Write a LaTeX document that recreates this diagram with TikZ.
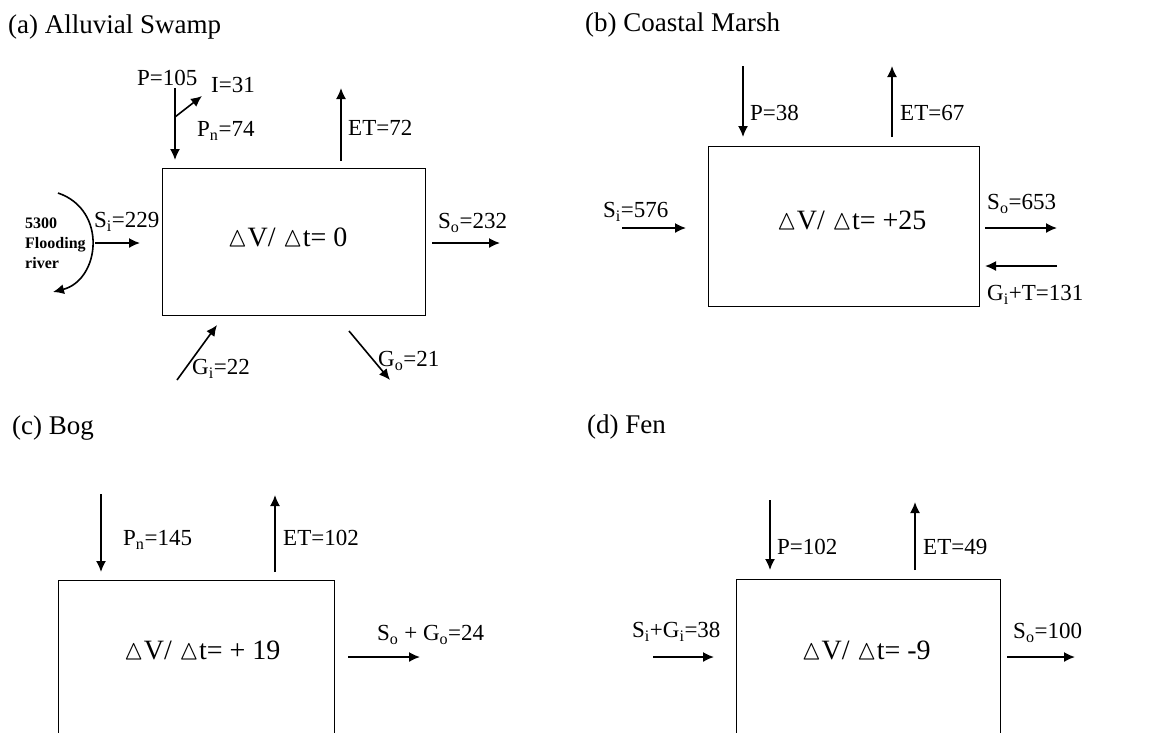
\documentclass[tikz,border=0pt]{standalone}
\usepackage{fontspec}
\setmainfont{Liberation Serif}
\usepackage{amssymb}
\usetikzlibrary{arrows.meta}

\newcommand{\lsub}[1]{\textsubscript{#1}}
\newcommand{\dvdt}{$\vartriangle$V/ $\vartriangle$t=}

\begin{document}
\begin{tikzpicture}[x=1pt, y=-1pt,
        wbox/.style={draw, line width=1pt, inner sep=0pt},
        flow/.style={-{Latex[length=11pt, width=10pt]}, line width=1.6pt},
        vlab/.style={anchor=west, inner sep=0pt, font=\fontsize{23}{27}\selectfont},
        panel/.style={anchor=west, inner sep=0pt, font=\fontsize{27}{32}\selectfont},
        dvlab/.style={inner sep=0pt, font=\fontsize{28}{33}\selectfont}
    ]
    \useasboundingbox (0,0) rectangle (1149,732);
    \clip (0,0) rectangle (1149,732);

    % --- (a) Alluvial Swamp ---
    \node[panel] (tA) at (8,27) {(a) Alluvial Swamp};
    \node[wbox, minimum width=263pt, minimum height=147pt] (boxA) at (293.5,241.5) {};
    \node[dvlab] (dvA) at (287.5,237) {\dvdt{} 0};
    \coordinate (pA0) at (175,88);   \coordinate (pA1) at (175,160);
    \coordinate (iA0) at (175,117);  \coordinate (iA1) at (202,96);
    \coordinate (etA0) at (341,161); \coordinate (etA1) at (341,88);
    \coordinate (siA0) at (95,243);  \coordinate (siA1) at (140,243);
    \coordinate (soA0) at (432,243); \coordinate (soA1) at (500,243);
    \coordinate (giA0) at (177,380); \coordinate (giA1) at (217,325);
    \coordinate (goA0) at (349,331); \coordinate (goA1) at (390,380);
    \coordinate (rvA0) at (58,193);  \coordinate (rvA1) at (53,292);
    \draw[flow] (pA0)--(pA1);
    \draw[flow] (iA0)--(iA1);
    \draw[flow] (etA0)--(etA1);
    \draw[flow] (siA0)--(siA1);
    \draw[flow] (soA0)--(soA1);
    \draw[flow] (giA0)--(giA1);
    \draw[flow] (goA0)--(goA1);
    \draw[flow] (rvA0) .. controls (108,210) and (100,280) .. (rvA1);
    \node[vlab] (lpA) at (137,78) {P=105};
    \node[vlab] (liA) at (211,85) {I=31};
    \node[vlab] (lpnA) at (197,131) {P\lsub{n}=74};
    \node[vlab] (letA) at (348,128) {ET=72};
    \node[vlab] (lsiA) at (94,222) {S\lsub{i}=229};
    \node[vlab] (lsoA) at (438,223) {S\lsub{o}=232};
    \node[vlab] (lgiA) at (192,369) {G\lsub{i}=22};
    \node[vlab] (lgoA) at (378,361) {G\lsub{o}=21};
    \node[anchor=west, inner sep=0pt, align=left, font=\fontsize{16}{20}\selectfont\bfseries] (rvA) at (25,243) {5300\\Flooding\\river};

    % --- (b) Coastal Marsh ---
    \node[panel] (tB) at (585,25) {(b) Coastal Marsh};
    \node[wbox, minimum width=271pt, minimum height=160pt] (boxB) at (843.5,226) {};
    \node[dvlab] (dvB) at (851.5,220) {\dvdt{} +25};
    \coordinate (pB0) at (743,66);    \coordinate (pB1) at (743,137);
    \coordinate (etB0) at (892,137);  \coordinate (etB1) at (892,66);
    \coordinate (siB0) at (622,228);  \coordinate (siB1) at (686,228);
    \coordinate (soB0) at (985,228);  \coordinate (soB1) at (1057,228);
    \coordinate (gtB0) at (1057,266); \coordinate (gtB1) at (985,266);
    \draw[flow] (pB0)--(pB1);
    \draw[flow] (etB0)--(etB1);
    \draw[flow] (siB0)--(siB1);
    \draw[flow] (soB0)--(soB1);
    \draw[flow] (gtB0)--(gtB1);
    \node[vlab] (lpB) at (750,113) {P=38};
    \node[vlab] (letB) at (900,113) {ET=67};
    \node[vlab] (lsiB) at (603,212) {S\lsub{i}=576};
    \node[vlab] (lsoB) at (987,204) {S\lsub{o}=653};
    \node[vlab] (lgtB) at (987,295) {G\lsub{i}+T=131};

    % --- (c) Bog ---
    \node[panel] (tC) at (12,428) {(c) Bog};
    \node[wbox, minimum width=276pt, minimum height=180pt] (boxC) at (196,670) {};
    \node[dvlab] (dvC) at (202,650) {\dvdt{} + 19};
    \coordinate (pC0) at (101,494);   \coordinate (pC1) at (101,572);
    \coordinate (etC0) at (275,572);  \coordinate (etC1) at (275,495);
    \coordinate (soC0) at (348,657);  \coordinate (soC1) at (420,657);
    \draw[flow] (pC0)--(pC1);
    \draw[flow] (etC0)--(etC1);
    \draw[flow] (soC0)--(soC1);
    \node[vlab] (lpC) at (123,540) {P\lsub{n}=145};
    \node[vlab] (letC) at (283,538) {ET=102};
    \node[vlab] (lsoC) at (377,635) {S\lsub{o} + G\lsub{o}=24};

    % --- (d) Fen ---
    \node[panel] (tD) at (587,427) {(d) Fen};
    \node[wbox, minimum width=264pt, minimum height=182pt] (boxD) at (868,670) {};
    \node[dvlab] (dvD) at (866,650) {\dvdt{} -9};
    \coordinate (pD0) at (770,500);   \coordinate (pD1) at (770,570);
    \coordinate (etD0) at (915,570);  \coordinate (etD1) at (915,502);
    \coordinate (sgD0) at (653,657);  \coordinate (sgD1) at (714,657);
    \coordinate (soD0) at (1007,657); \coordinate (soD1) at (1075,657);
    \draw[flow] (pD0)--(pD1);
    \draw[flow] (etD0)--(etD1);
    \draw[flow] (sgD0)--(sgD1);
    \draw[flow] (soD0)--(soD1);
    \node[vlab] (lpD) at (777,547) {P=102};
    \node[vlab] (letD) at (923,547) {ET=49};
    \node[vlab] (lsgD) at (632,632) {S\lsub{i}+G\lsub{i}=38};
    \node[vlab] (lsoD) at (1013,633) {S\lsub{o}=100};
\end{tikzpicture}
\end{document}
